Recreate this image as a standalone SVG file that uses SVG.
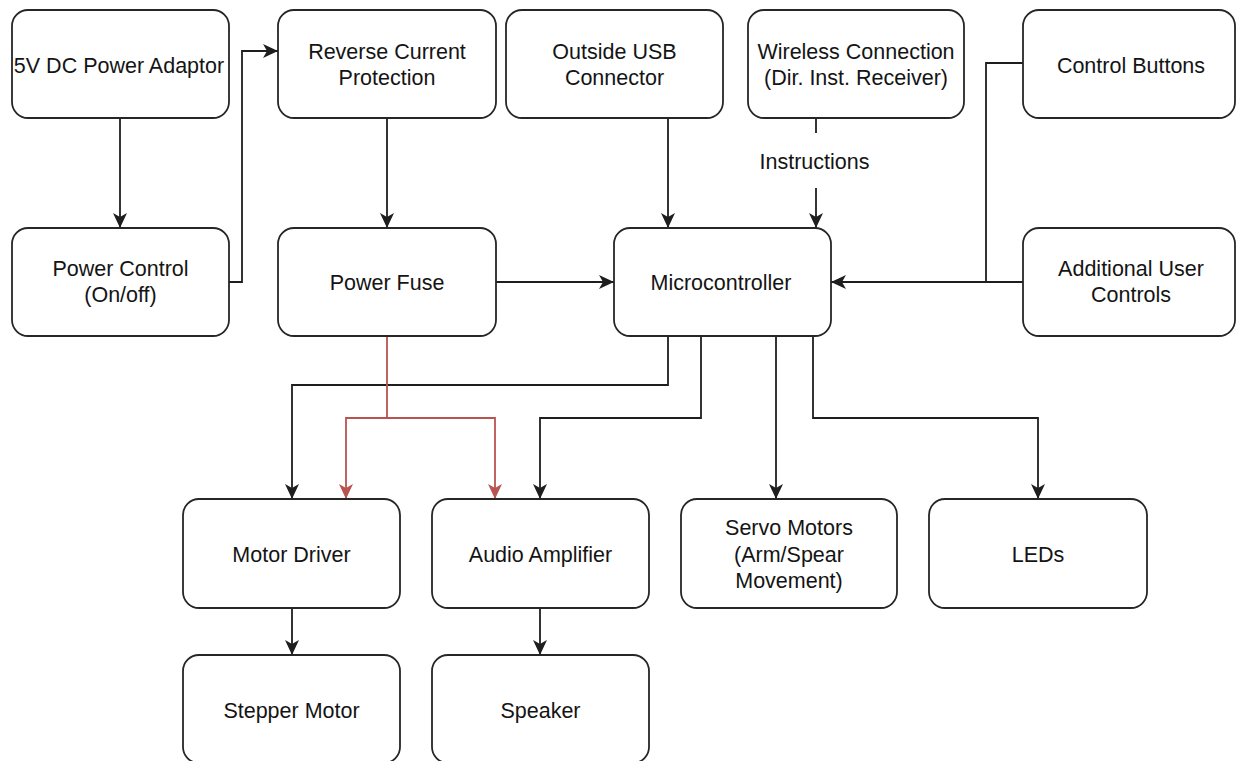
<svg xmlns="http://www.w3.org/2000/svg" width="1237" height="761" viewBox="0 0 1237 761">
  <style>
    .box { fill: #ffffff; stroke: #262626; stroke-width: 1.8; }
    .lbl { font-family: "Liberation Sans", Arial, sans-serif; font-size: 21.5px; fill: #141414; text-anchor: middle; }
    .edge { fill: none; stroke: #1e1e1e; stroke-width: 1.8; }
    .edge-red { fill: none; stroke: #b85450; stroke-width: 1.8; }
  </style>
  <defs>
    <marker id="arrow" markerUnits="userSpaceOnUse" viewBox="-16 -8 17 16" refX="0" refY="0" markerWidth="17" markerHeight="16" orient="auto">
      <path d="M0,0 L-15,-7 L-11,0 L-15,7 Z" fill="#1e1e1e"/>
    </marker>
    <marker id="arrow-red" markerUnits="userSpaceOnUse" viewBox="-16 -8 17 16" refX="0" refY="0" markerWidth="17" markerHeight="16" orient="auto">
      <path d="M0,0 L-15,-7 L-11,0 L-15,7 Z" fill="#b85450"/>
    </marker>
  </defs>

  <rect width="1237" height="761" fill="#ffffff"/>

  <!-- connectors -->
  <g id="connectors">
    <path class="edge" d="M120,118 V228" marker-end="url(#arrow)"/>
    <path class="edge" d="M229,282 H242 V51 H278" marker-end="url(#arrow)"/>
    <path class="edge" d="M387,118 V228" marker-end="url(#arrow)"/>
    <path class="edge" d="M668,118 V228" marker-end="url(#arrow)"/>
    <path class="edge" d="M816,118 V133"/>
    <path class="edge" d="M816,188 V228" marker-end="url(#arrow)"/>
    <text class="lbl" x="814.5" y="168.5">Instructions</text>
    <path class="edge" d="M496,282 H614" marker-end="url(#arrow)"/>
    <path class="edge" d="M1023,63 H986 V282"/>
    <path class="edge" d="M1023,282 H831" marker-end="url(#arrow)"/>
    <path class="edge" d="M668,336 V385 H292 V499" marker-end="url(#arrow)"/>
    <path class="edge" d="M701,336 V418 H540 V499" marker-end="url(#arrow)"/>
    <path class="edge" d="M776,336 V499" marker-end="url(#arrow)"/>
    <path class="edge" d="M813,336 V418 H1038 V499" marker-end="url(#arrow)"/>
    <path class="edge-red" d="M387,336 V418 H346 V499" marker-end="url(#arrow-red)"/>
    <path class="edge-red" d="M387,418 H495 V499" marker-end="url(#arrow-red)"/>
    <path class="edge" d="M292,608 V655" marker-end="url(#arrow)"/>
    <path class="edge" d="M540,608 V655" marker-end="url(#arrow)"/>
  </g>

  <!-- nodes -->
  <g id="power-adaptor">
    <rect class="box" x="12" y="10" width="217" height="108" rx="16"/>
    <text class="lbl" x="119" y="72.5">5V DC Power Adaptor</text>
  </g>
  <g id="reverse-current">
    <rect class="box" x="278" y="10" width="218" height="108" rx="16"/>
    <text class="lbl" x="387" y="58.5">Reverse Current</text>
    <text class="lbl" x="387" y="85">Protection</text>
  </g>
  <g id="usb-connector">
    <rect class="box" x="506" y="10" width="217" height="108" rx="16"/>
    <text class="lbl" x="614.5" y="58.5">Outside USB</text>
    <text class="lbl" x="614.5" y="85">Connector</text>
  </g>
  <g id="wireless">
    <rect class="box" x="748" y="10" width="216" height="108" rx="16"/>
    <text class="lbl" x="856" y="58.5">Wireless Connection</text>
    <text class="lbl" x="856" y="85">(Dir. Inst. Receiver)</text>
  </g>
  <g id="control-buttons">
    <rect class="box" x="1023" y="10" width="212" height="108" rx="16"/>
    <text class="lbl" x="1131" y="72.5">Control Buttons</text>
  </g>
  <g id="power-control">
    <rect class="box" x="12" y="228" width="217" height="108" rx="16"/>
    <text class="lbl" x="120.5" y="275.5">Power Control</text>
    <text class="lbl" x="120.5" y="302">(On/off)</text>
  </g>
  <g id="power-fuse">
    <rect class="box" x="278" y="228" width="218" height="108" rx="16"/>
    <text class="lbl" x="387" y="289.5">Power Fuse</text>
  </g>
  <g id="microcontroller">
    <rect class="box" x="614" y="228" width="217" height="108" rx="16"/>
    <text class="lbl" x="721" y="289.5">Microcontroller</text>
  </g>
  <g id="user-controls">
    <rect class="box" x="1023" y="228" width="212" height="108" rx="16"/>
    <text class="lbl" x="1131" y="275.5">Additional User</text>
    <text class="lbl" x="1131" y="302">Controls</text>
  </g>
  <g id="motor-driver">
    <rect class="box" x="183" y="499" width="217" height="109" rx="16"/>
    <text class="lbl" x="291.5" y="561.5">Motor Driver</text>
  </g>
  <g id="audio-amplifier">
    <rect class="box" x="432" y="499" width="217" height="109" rx="16"/>
    <text class="lbl" x="540.5" y="561.5">Audio Amplifier</text>
  </g>
  <g id="servo-motors">
    <rect class="box" x="681" y="499" width="216" height="109" rx="16"/>
    <text class="lbl" x="789" y="534.5">Servo Motors</text>
    <text class="lbl" x="789" y="561.5">(Arm/Spear</text>
    <text class="lbl" x="789" y="588">Movement)</text>
  </g>
  <g id="leds">
    <rect class="box" x="929" y="499" width="218" height="109" rx="16"/>
    <text class="lbl" x="1038" y="561.5">LEDs</text>
  </g>
  <g id="stepper-motor">
    <rect class="box" x="183" y="655" width="217" height="108" rx="16"/>
    <text class="lbl" x="291.5" y="717.5">Stepper Motor</text>
  </g>
  <g id="speaker">
    <rect class="box" x="432" y="655" width="217" height="108" rx="16"/>
    <text class="lbl" x="540.5" y="717.5">Speaker</text>
  </g>
</svg>
